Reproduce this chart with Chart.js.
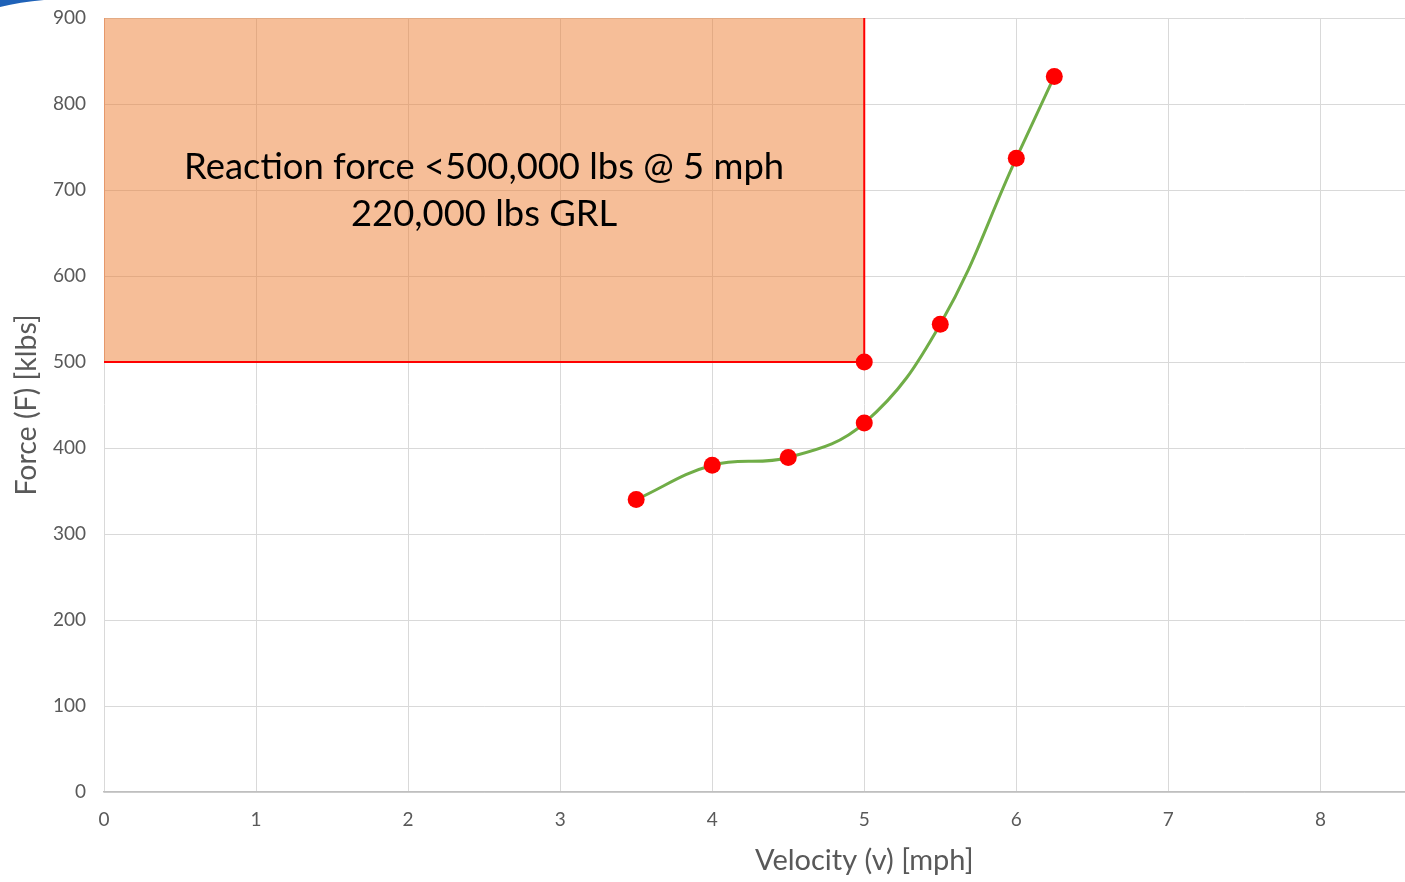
<!DOCTYPE html>
<html>
<head>
<meta charset="utf-8">
<script src="https://cdn.jsdelivr.net/npm/chart.js@4"></script>
<style>
    html, body { margin: 0; padding: 0; background: #fff; overflow: hidden; }
    #wrap { position: relative; width: 1633px; height: 882px; }
    #corner { position: absolute; left: 0; top: 0; }
</style>
</head>
<body>
<div id="wrap">
    <canvas id="forceChart"></canvas>
    <svg id="corner" width="50" height="10"><path d="M0 0 L44 0 Q20 2 0 7 Z" fill="#1f62b8"/></svg>
</div>
<script>
// velocity [mph] vs reaction force [klbs]
const velocity = [3.5, 4, 4.5, 5, 5.5, 6, 6.25];
const force = [340, 380, 389, 429, 544, 737, 832];

// design limit zone (outline of the shaded box)
const zoneX = [0, 0, 5, 5];
const zoneY = [900, 500, 500, 900];
const zoneLabel = ['Reaction force <500,000 lbs @ 5 mph', '220,000 lbs GRL'];
const zoneLabelAt = { x: 2.5, y: [727, 672] };

const xTicks = [0, 1, 2, 3, 4, 5, 6, 7, 8, 9, 10];
const yTicks = [0, 100, 200, 300, 400, 500, 600, 700, 800, 900];

const FONT = "Lato, 'Open Sans', sans-serif";
const GRAY = '#595959';

const toPoints = (xs, ys) => xs.map((x, i) => ({ x: x, y: ys[i] }));

// draw the text inside the zone
const zoneText = {
    id: 'zoneText',
    afterDatasetsDraw(chart) {
        const ctx = chart.ctx;
        const xs = chart.scales.x, ys = chart.scales.y;
        ctx.save();
        ctx.fillStyle = '#000';
        ctx.font = '36.4px ' + FONT;
        ctx.textAlign = 'center';
        ctx.textBaseline = 'middle';
        zoneLabel.forEach((line, i) => {
            ctx.fillText(line, xs.getPixelForValue(zoneLabelAt.x), ys.getPixelForValue(zoneLabelAt.y[i]));
        });
        ctx.restore();
    }
};

const canvas = document.getElementById('forceChart');
canvas.width = 1633;
canvas.height = 882;

new Chart(canvas, {
    type: 'scatter',
    data: {
        datasets: [
            {
                label: 'Force',
                data: toPoints(velocity, force),
                showLine: true,
                borderColor: '#70ad47',
                borderWidth: 3,
                tension: 0.4,
                pointRadius: 8.5,
                pointHoverRadius: 8.5,
                pointBackgroundColor: '#ff0000',
                pointBorderWidth: 0,
                order: 0
            },
            {
                label: 'Limit',
                data: toPoints(zoneX, zoneY),
                showLine: true,
                fill: 'end',
                backgroundColor: 'rgba(237, 125, 49, 0.5)',
                borderWidth: 2,
                borderColor: '#ff0000',
                segment: {
                    borderColor: c => c.p0DataIndex === 0 ? 'rgba(230, 140, 90, 0.6)' : '#ff0000'
                },
                tension: 0,
                pointRadius: zoneX.map((x, i) => i === 2 ? 8.5 : 0),
                pointHoverRadius: zoneX.map((x, i) => i === 2 ? 8.5 : 0),
                pointBackgroundColor: '#ff0000',
                pointBorderWidth: 0,
                order: 1
            }
        ]
    },
    options: {
        responsive: false,
        animation: false,
        events: [],
        layout: { padding: { left: 0, top: 18, right: 0, bottom: 4 } },
        plugins: {
            legend: { display: false },
            tooltip: { enabled: false }
        },
        scales: {
            x: {
                type: 'linear',
                min: 0,
                max: 10,
                afterBuildTicks: s => { s.ticks = xTicks.map(v => ({ value: v })); },
                afterFit: s => { s.height = 86; s.paddingLeft = 0; s.paddingRight = 0; },
                grid: { color: '#d9d9d9', lineWidth: 1, drawTicks: false },
                border: { color: '#bfbfbf', width: 1.5 },
                ticks: { color: GRAY, font: { family: FONT, size: 19 }, padding: 16 },
                title: {
                    display: true,
                    text: 'Velocity (v) [mph]',
                    color: GRAY,
                    font: { family: FONT, size: 29 },
                    padding: { top: 0, bottom: 0 }
                }
            },
            y: {
                type: 'linear',
                min: 0,
                max: 900,
                afterBuildTicks: s => { s.ticks = yTicks.map(v => ({ value: v })); },
                afterFit: s => { s.width = 104; s.paddingTop = 0; s.paddingBottom = 0; },
                grid: { color: '#d9d9d9', lineWidth: 1, drawTicks: false },
                border: { display: false },
                ticks: { color: GRAY, font: { family: FONT, size: 19 }, padding: 18 },
                title: {
                    display: true,
                    text: 'Force (F) [klbs]',
                    color: GRAY,
                    font: { family: FONT, size: 28.5 },
                    padding: { top: 10, bottom: 0 }
                }
            }
        }
    },
    plugins: [zoneText]
});
</script>
</body>
</html>
